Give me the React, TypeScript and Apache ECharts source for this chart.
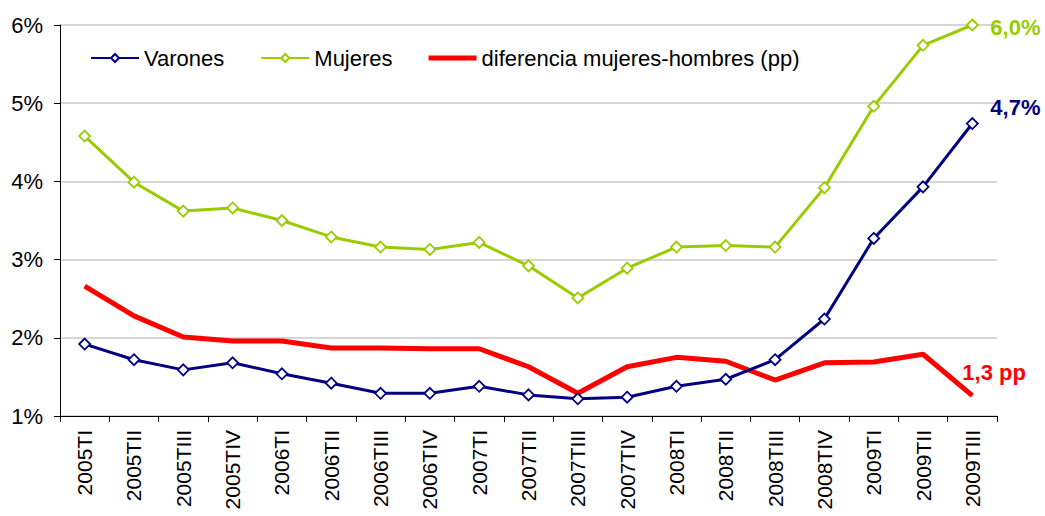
import React, { useEffect, useRef } from "react";
import * as echarts from "echarts";

const categories = [
  "2005TI", "2005TII", "2005TIII", "2005TIV",
  "2006TI", "2006TII", "2006TIII", "2006TIV",
  "2007TI", "2007TII", "2007TIII", "2007TIV",
  "2008TI", "2008TII", "2008TIII", "2008TIV",
  "2009TI", "2009TII", "2009TIII",
];

const varones = [1.92, 1.72, 1.59, 1.68, 1.54, 1.42, 1.29, 1.29, 1.38, 1.27, 1.22, 1.24, 1.38, 1.47, 1.72, 2.24, 3.27, 3.93, 4.74];
const mujeres = [4.58, 3.99, 3.62, 3.66, 3.50, 3.29, 3.16, 3.13, 3.22, 2.92, 2.51, 2.89, 3.16, 3.18, 3.16, 3.92, 4.96, 5.74, 6.0];
const diferencia = [2.66, 2.28, 2.01, 1.96, 1.96, 1.87, 1.87, 1.86, 1.86, 1.63, 1.29, 1.63, 1.75, 1.70, 1.46, 1.68, 1.69, 1.79, 1.26];

const seriesNames = ["Varones", "Mujeres", "diferencia mujeres-hombres (pp)"];
const endLabels = ["4,7%", "6,0%", "1,3 pp"];
const yTicks = [1, 2, 3, 4, 5, 6];

const NAVY = "#000080";
const GREEN = "#99CC00";
const RED = "#FF0000";
const FONT = "'Liberation Sans', Arial, sans-serif";

export default function App() {
  const ref = useRef<HTMLDivElement>(null);
  useEffect(() => {
    if (!ref.current) return;
    const chart = echarts.init(ref.current, null, { renderer: "svg" });
    chart.setOption({
      animation: false,
      textStyle: { fontFamily: FONT },
      grid: { left: 60, top: 25, right: 48, bottom: 100, containLabel: false },
      legend: {
        left: 85,
        top: 42,
        itemWidth: 48,
        itemHeight: 10,
        itemGap: 36,
        textStyle: { fontSize: 22, color: "#000", fontFamily: FONT },
        data: [
          { name: seriesNames[0] },
          { name: seriesNames[1] },
          { name: seriesNames[2], icon: "path://M0 0H48V5H0Z" },
        ],
      },
      xAxis: {
        type: "category",
        data: categories,
        boundaryGap: true,
        axisLine: { lineStyle: { color: "#000", width: 1 } },
        axisTick: { show: true, length: 6, lineStyle: { color: "#000" } },
        axisLabel: { rotate: 90, fontSize: 21, color: "#000", margin: 14, interval: 0, fontFamily: FONT },
        splitLine: { show: false },
      },
      yAxis: {
        type: "value",
        min: yTicks[0],
        max: yTicks[yTicks.length - 1],
        interval: 1,
        axisLine: { show: true, lineStyle: { color: "#000", width: 1 } },
        axisTick: { show: true, length: 6, lineStyle: { color: "#000" } },
        axisLabel: { fontSize: 22, color: "#000", margin: 17, formatter: (v: number) => `${v}%`, fontFamily: FONT },
        splitLine: { show: true, lineStyle: { color: "#c8c8c8", width: 1.5 } },
      },
      series: [
        {
          name: seriesNames[0],
          type: "line",
          data: varones,
          symbol: "diamond",
          symbolSize: 11,
          lineStyle: { color: NAVY, width: 3 },
          itemStyle: { color: "#fff", borderColor: NAVY, borderWidth: 1.8 },
          endLabel: {
            show: true,
            formatter: endLabels[0],
            color: NAVY,
            fontWeight: "bold",
            fontSize: 22,
            distance: 18,
            offset: [0, -16],
            fontFamily: FONT,
          },
          z: 3,
        },
        {
          name: seriesNames[1],
          type: "line",
          data: mujeres,
          symbol: "diamond",
          symbolSize: 11,
          lineStyle: { color: GREEN, width: 3 },
          itemStyle: { color: "#fff", borderColor: GREEN, borderWidth: 1.8 },
          endLabel: {
            show: true,
            formatter: endLabels[1],
            color: GREEN,
            fontWeight: "bold",
            fontSize: 22,
            distance: 18,
            offset: [0, 2],
            fontFamily: FONT,
          },
          z: 2,
        },
        {
          name: seriesNames[2],
          type: "line",
          data: diferencia,
          symbol: "none",
          showSymbol: false,
          lineStyle: { color: RED, width: 5 },
          itemStyle: { color: RED },
          endLabel: {
            show: true,
            formatter: endLabels[2],
            color: RED,
            fontWeight: "bold",
            fontSize: 22,
            distance: 0,
            offset: [-10, -23],
            fontFamily: FONT,
          },
          z: 1,
        },
      ],
    });
    return () => chart.dispose();
  }, []);
  return (
    <div
      ref={ref}
      style={{ position: "fixed", left: 0, top: 0, width: 1045, height: 516, background: "#fff" }}
    />
  );
}
